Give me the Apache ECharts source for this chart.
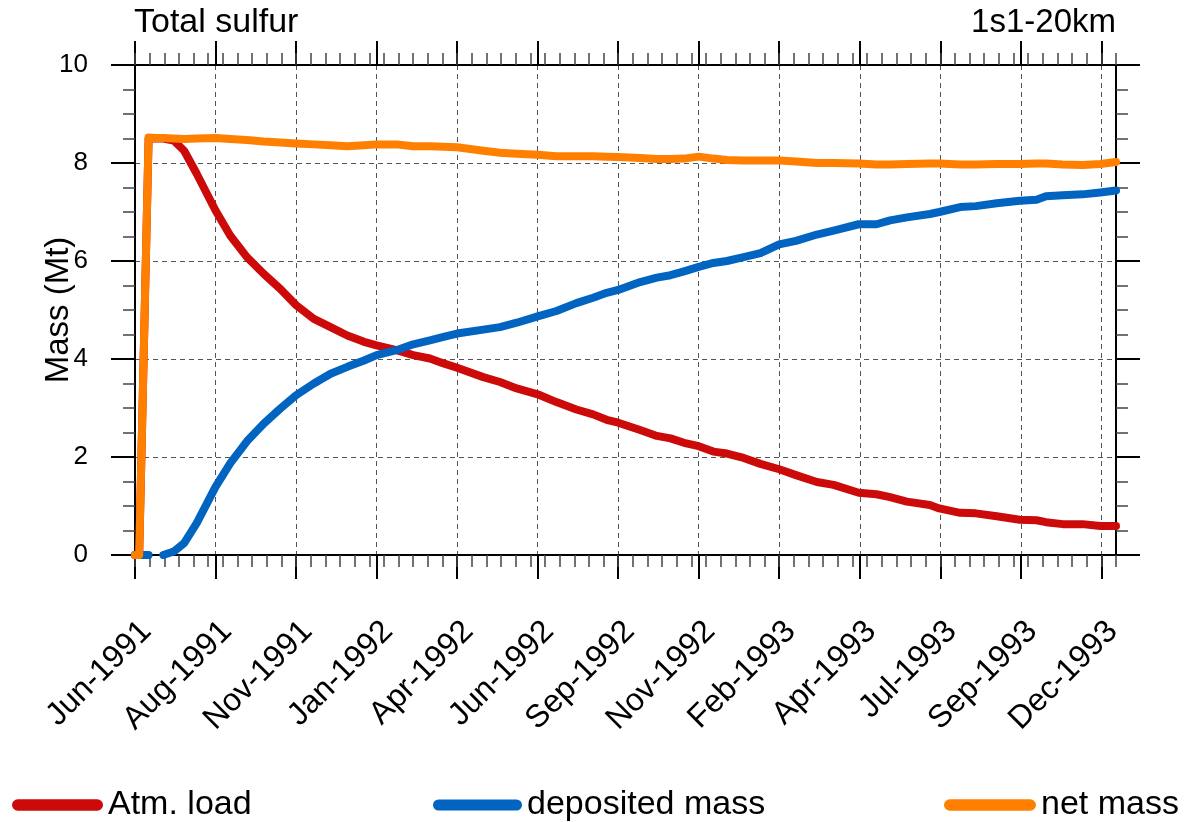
<!DOCTYPE html>
<html>
<head>
<meta charset="utf-8">
<title>Total sulfur</title>
<script src="https://cdn.jsdelivr.net/npm/echarts@6/dist/echarts.min.js"></script>
<style>
  html, body { margin: 0; padding: 0; background: #ffffff; }
  #chart { width: 1186px; height: 822px; }
</style>
</head>
<body>
<div id="chart"></div>
<script>
// Days since 1 Jun 1991
const days = [0, 4, 13, 20, 27, 37, 47, 59, 77, 91, 107, 123, 139, 154, 171, 187, 203, 219, 231, 250,
  266, 282, 295, 308, 333, 349, 365, 385, 403, 422, 438, 451, 462, 483, 499, 512, 525, 539, 553, 566,
  582, 598, 616, 632, 652, 668, 692, 709, 722, 738, 760, 769, 789, 804, 824, 846, 862, 871, 887, 906,
  923, 938];

// Sulfur mass (Mt)
const atmLoad = [0, 0, 8.50, 8.50, 8.50, 8.46, 8.25, 7.78, 7.03, 6.52, 6.08, 5.74, 5.43, 5.10, 4.82, 4.65, 4.48, 4.35, 4.28, 4.18,
  4.08, 4.01, 3.91, 3.82, 3.63, 3.53, 3.40, 3.28, 3.12, 2.97, 2.87, 2.76, 2.70, 2.55, 2.43, 2.38, 2.29, 2.22, 2.11, 2.07,
  1.98, 1.86, 1.75, 1.63, 1.49, 1.43, 1.27, 1.24, 1.18, 1.09, 1.02, 0.95, 0.86, 0.85, 0.79, 0.72, 0.71, 0.67, 0.63, 0.63,
  0.59, 0.59];

const depositedMass = [0, 0, 0, null, 0, 0.07, 0.24, 0.65, 1.39, 1.87, 2.32, 2.68, 2.99, 3.26, 3.50, 3.70, 3.84, 3.97, 4.08, 4.18,
  4.30, 4.38, 4.45, 4.52, 4.60, 4.65, 4.74, 4.87, 4.98, 5.14, 5.25, 5.35, 5.41, 5.57, 5.66, 5.71, 5.79, 5.88, 5.96, 6.00,
  6.08, 6.16, 6.34, 6.41, 6.54, 6.62, 6.75, 6.75, 6.83, 6.89, 6.96, 7.00, 7.10, 7.12, 7.18, 7.23, 7.25, 7.32, 7.34, 7.36,
  7.40, 7.44];

const netMass = [0, 0, 8.52, 8.51, 8.51, 8.50, 8.49, 8.50, 8.51, 8.49, 8.47, 8.44, 8.42, 8.40, 8.38, 8.36, 8.34, 8.36, 8.38, 8.38,
  8.34, 8.34, 8.33, 8.32, 8.25, 8.21, 8.19, 8.17, 8.14, 8.14, 8.14, 8.13, 8.12, 8.10, 8.08, 8.08, 8.09, 8.13, 8.09, 8.06,
  8.05, 8.05, 8.05, 8.03, 8.00, 8.00, 7.99, 7.97, 7.97, 7.98, 7.99, 7.99, 7.97, 7.97, 7.98, 7.98, 7.99, 7.99, 7.97, 7.96,
  7.98, 8.02];

// Time axis: major ticks every 77 days, minor every 14 days
const tickLabels = ['Jun-1991', 'Aug-1991', 'Nov-1991', 'Jan-1992', 'Apr-1992', 'Jun-1992', 'Sep-1992',
  'Nov-1992', 'Feb-1993', 'Apr-1993', 'Jul-1993', 'Sep-1993', 'Dec-1993'];
const majorStep = 77;
const minorStep = 14;
const dayMax = 938;

const seriesNames = ['Atm. load', 'deposited mass', 'net mass'];
const seriesColors = ['#CC0A0A', '#0064C0', '#FF8000'];
const seriesValues = [atmLoad, depositedMass, netMass];

const FONT = '"Liberation Sans", Arial, Helvetica, sans-serif';
const majorTicks = tickLabels.map((_, i) => i * majorStep);

function pairs(vals) {
  return days.map((d, i) => [d, vals[i]]);
}

const chart = echarts.init(document.getElementById('chart'), null, { renderer: 'canvas' });

const majorTickStyle = { color: '#000', width: 2 };
const minorTickStyle = { color: '#444', width: 1.5 };
const gridDash = { color: '#555', width: 1, type: [5, 4] };

function xAxisDef(position, isMajor, withLabels) {
  return {
    type: 'value',
    position: position,
    min: 0,
    max: dayMax,
    interval: isMajor ? majorStep : minorStep,
    axisLine: { show: isMajor, onZero: false, lineStyle: { color: '#000', width: 2 } },
    axisTick: isMajor
      ? { show: true, inside: false, length: 24, lineStyle: majorTickStyle, customValues: majorTicks }
      : { show: true, inside: false, length: 12, lineStyle: minorTickStyle },
    axisLabel: withLabels ? {
      show: true,
      customValues: majorTicks,
      rotate: 45,
      align: 'right',
      verticalAlign: 'top',
      margin: 60,
      fontFamily: FONT,
      fontSize: 32,
      color: '#000',
      formatter: (v) => tickLabels[Math.round(v / majorStep)] || ''
    } : { show: false },
    splitLine: (isMajor && withLabels) ? { show: true, lineStyle: gridDash } : { show: false },
    minorTick: { show: false },
    minorSplitLine: { show: false }
  };
}

function yAxisDef(position, withLabels) {
  return {
    type: 'value',
    position: position,
    min: 0,
    max: 10,
    interval: 2,
    name: withLabels ? 'Mass (Mt)' : '',
    nameLocation: 'middle',
    nameRotate: 90,
    nameGap: 60,
    nameMoveOverlap: false,
    nameTextStyle: { fontFamily: FONT, fontSize: 33, color: '#000' },
    axisLine: { show: true, onZero: false, lineStyle: { color: '#000', width: 2 } },
    axisTick: { show: true, inside: false, length: 24, lineStyle: majorTickStyle },
    minorTick: { show: true, splitNumber: 4, length: 12, lineStyle: minorTickStyle },
    axisLabel: withLabels ? {
      show: true, margin: 47, fontFamily: FONT, fontSize: 26, color: '#000'
    } : { show: false },
    splitLine: withLabels ? { show: true, lineStyle: gridDash } : { show: false },
    minorSplitLine: { show: false }
  };
}

const legendLeft = [12, 433, 944];
const legendItemWidth = [91, 89, 92];
const capsule = 'path://M6,0L90,0A6,6,0,0,1,90,12L6,12A6,6,0,0,1,6,0Z';

chart.setOption({
  animation: false,
  backgroundColor: '#ffffff',
  title: [
    { text: 'Total sulfur', left: 134, top: 6, padding: 0,
      textStyle: { fontFamily: FONT, fontSize: 34, fontWeight: 'normal', color: '#000' } },
    { text: '1s1-20km', right: 70, top: 6, padding: 0,
      textStyle: { fontFamily: FONT, fontSize: 33, fontWeight: 'normal', color: '#000' } }
  ],
  legend: seriesNames.map((name, i) => ({
    data: [name],
    left: legendLeft[i],
    top: 788,
    padding: 0,
    icon: capsule,
    itemWidth: legendItemWidth[i],
    itemHeight: 13,
    selectedMode: false,
    textStyle: { fontFamily: FONT, fontSize: 34, color: '#000' }
  })),
  grid: { left: 135, top: 65, width: 981, height: 490, containLabel: false },
  xAxis: [
    xAxisDef('bottom', true, true),
    xAxisDef('bottom', false, false),
    xAxisDef('top', true, false),
    xAxisDef('top', false, false)
  ],
  yAxis: [
    yAxisDef('left', true),
    yAxisDef('right', false)
  ],
  series: seriesNames.map((name, i) => ({
    name: name,
    type: 'line',
    xAxisIndex: 0,
    yAxisIndex: 0,
    data: pairs(seriesValues[i]),
    showSymbol: false,
    symbol: 'none',
    connectNulls: false,
    smooth: false,
    color: seriesColors[i],
    lineStyle: { color: seriesColors[i], width: 8, cap: 'round', join: 'round' },
    z: 2 + i
  }))
});
</script>
</body>
</html>
